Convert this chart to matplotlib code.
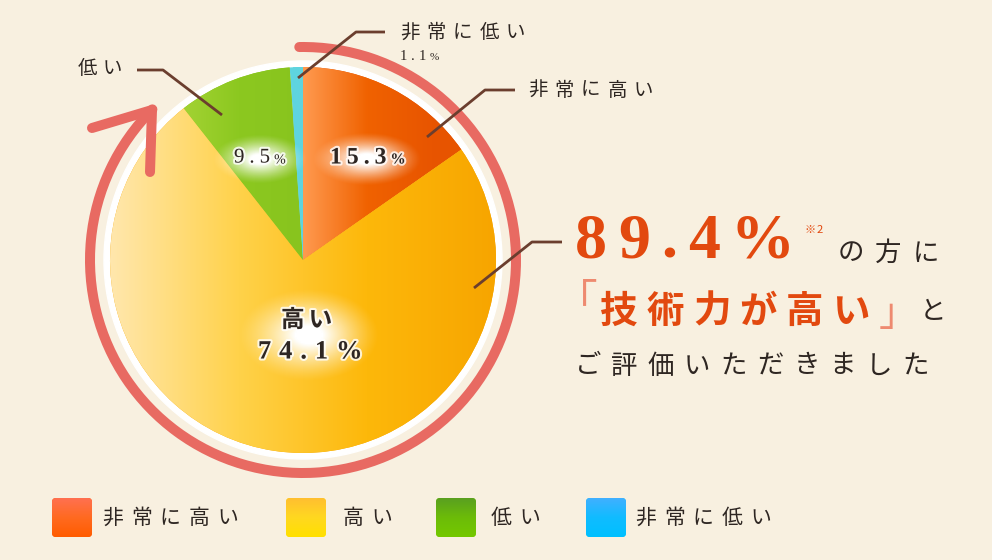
import matplotlib
matplotlib.use('Agg')
import numpy as np
import matplotlib.pyplot as plt
import matplotlib.patheffects as pe
from matplotlib.colors import LinearSegmentedColormap
from matplotlib.patches import Circle, Arc, FancyBboxPatch
from matplotlib.lines import Line2D

W, H = 992, 560

# data
categories = ['非常に高い', '高い', '低い', '非常に低い']
shares = [15.3, 74.1, 9.5, 1.1]
positive_share = 89.4

# gradients per slice (left -> right)
slice_grads = [
    ['#ff9a50', '#f06200', '#e85500', '#e65300'],
    ['#ffe7ad', '#ffd24a', '#fdb80a', '#f7a500'],
    ['#c4e060', '#a6d436', '#8cc820', '#88c41e'],
    ['#5fd4df', '#5fd4df'],
]
# legend swatches (top -> bottom)
legend_grads = [
    ['#ff7050', '#ff6a20', '#ff5c00'],
    ['#ffbf30', '#ffd820', '#ffe000'],
    ['#5aa020', '#6cbc08', '#74c800'],
    ['#40b0ff', '#10bcff', '#00c0ff'],
]

BG = '#f8f0e0'
RED = '#e2490f'
DARK = '#2e2622'
BROWN = '#6b3e2e'
ARC = '#e86a62'
JP = ['Noto Sans CJK JP', 'DejaVu Sans']
SERIF = ['Liberation Serif', 'DejaVu Serif']

fig = plt.figure(figsize=(W / 100, H / 100), dpi=100, facecolor=BG)
ax = fig.add_axes([0, 0, 1, 1])
ax.set_facecolor(BG)
renderer = fig.canvas.get_renderer()


def Y(y):
    return H - y


def spaced(x, y, s, size, gap, family=JP, **kw):
    # draw chars one by one with extra tracking, y from top
    cur = x
    for ch in s:
        t = ax.text(cur, Y(y), ch, fontsize=size, family=family,
                    ha='left', va='center', **kw)
        cur += t.get_window_extent(renderer).width + gap
    return cur - gap


def glow_blob(x0, x1, y0, y1):
    # soft white blob behind a label
    gx, gy = np.meshgrid(np.linspace(-1, 1, 120), np.linspace(-1, 1, 80))
    a = np.clip(1.25 - np.sqrt(gx ** 2 + gy ** 2) * 1.25, 0, 1) ** 1.3
    img = np.ones((80, 120, 4))
    img[..., 3] = a
    ax.imshow(img, extent=[x0, x1, Y(y1), Y(y0)], aspect='auto',
              interpolation='bilinear', zorder=5)


halo = [pe.withStroke(linewidth=3, foreground='white', alpha=0.8)]

cx, cy, r = 303, Y(260), 193

# white ring behind pie
ax.add_patch(Circle((cx, cy), r + 6, color='white', zorder=1))

wedges, _ = ax.pie(shares, startangle=90, counterclock=False,
                   center=(cx, cy), radius=r,
                   colors=[g[-1] for g in slice_grads],
                   wedgeprops=dict(linewidth=0))
for w in wedges:
    w.set_zorder(2)

# gradient fill clipped to each wedge
xs = np.linspace(0, 1, 256).reshape(1, -1)
for w, g, (x0, x1) in zip(wedges, slice_grads,
                          [(cx, cx + r), (cx - r, cx + r), (cx - r, cx), (cx - 10, cx)]):
    cmap = LinearSegmentedColormap.from_list('g', g)
    im = ax.imshow(xs, cmap=cmap, aspect='auto', interpolation='bilinear',
                   extent=[x0, x1, cy - r, cy + r], zorder=3)
    im.set_clip_path(w)

# circular arrow
ax.add_patch(Arc((cx, cy), 2 * 213, 2 * 213, theta1=135, theta2=91,
                 lw=7.2, color=ARC, capstyle='round', zorder=4))
ax.add_line(Line2D([92, 152, 150], [Y(128), Y(110), Y(172)], lw=7.2, color=ARC,
                   solid_capstyle='round', solid_joinstyle='round', zorder=4))

# leader lines
leaders = [
    ([222, 163, 137], [115, 70, 70]),
    ([298, 356, 385], [78, 32, 32]),
    ([427, 485, 515], [137, 90, 90]),
    ([474, 532, 562], [288, 242, 242]),
]
for lx, ly in leaders:
    ax.add_line(Line2D(lx, [Y(v) for v in ly], lw=2, color=BROWN,
                       solid_capstyle='butt', zorder=6))

spaced(78, 69, categories[2], 14, 5, color=DARK)
spaced(400, 33, categories[3], 14, 7, color=DARK)
e = spaced(400, 56, f'{shares[3]:.1f}', 10.5, 4, family=SERIF, color=DARK)
spaced(e + 3, 57, '%', 8, 0, family=SERIF, color=DARK)
spaced(528, 90, categories[0], 14, 7, color=DARK)

# inside labels
glow_blob(312, 422, 132, 186)
glow_blob(212, 308, 134, 184)
glow_blob(238, 380, 288, 382)
e = spaced(330, 158, f'{shares[0]:.1f}', 17, 5, family=SERIF, weight='bold',
           color=DARK, path_effects=halo, zorder=7)
spaced(e + 4, 160, '%', 11, 0, family=SERIF, weight='bold', color=DARK,
       path_effects=halo, zorder=7)
e = spaced(234, 158, f'{shares[2]:.1f}', 15, 5, family=SERIF, color=DARK,
           path_effects=halo, zorder=7)
spaced(e + 4, 160, '%', 10, 0, family=SERIF, color=DARK,
       path_effects=halo, zorder=7)
spaced(281, 320, categories[1], 17, 4, weight='bold', color=DARK,
       path_effects=halo, zorder=7)
spaced(258, 352, f'{shares[1]:.1f}%', 19, 8, family=SERIF, weight='bold',
       color=DARK, path_effects=halo, zorder=7)

# headline text
e = spaced(575, 243, f'{positive_share:.1f}%', 46, 11, family=SERIF,
           weight='bold', color=RED)
spaced(e + 10, 230, '※2', 8, 1, family=JP, color=RED)
spaced(838, 253, 'の方に', 19, 11, color=DARK)
spaced(556, 302, '「', 30, 0, color='#ee8a70')
spaced(600, 311, '技術力が高い', 27, 9, weight='bold', color=RED)
spaced(879, 315, '」', 28, 0, color='#ee8a70')
spaced(920, 311, 'と', 19, 0, color=DARK)
spaced(575, 366, 'ご評価いただきました', 19, 10, color=DARK)

# legend
for lx, g, name, tx in zip([52, 286, 436, 586], legend_grads, categories,
                           [102, 343, 491, 635]):
    box = FancyBboxPatch((lx + 4, Y(537) + 4), 32, 31,
                         boxstyle='round,pad=4,rounding_size=4', lw=0,
                         facecolor=g[-1], zorder=5)
    ax.add_patch(box)
    cmap = LinearSegmentedColormap.from_list('l', g)
    im = ax.imshow(np.linspace(0, 1, 64).reshape(-1, 1), cmap=cmap,
                   aspect='auto', interpolation='bilinear',
                   extent=[lx, lx + 40, Y(537), Y(498)], zorder=6)
    im.set_clip_path(box)
    spaced(tx, 518, name, 15, 8, color=DARK)

ax.set_xlim(0, W)
ax.set_ylim(0, H)
ax.set_aspect('auto')
ax.axis('off')

fig.savefig('out.png', dpi=100, facecolor=BG)
